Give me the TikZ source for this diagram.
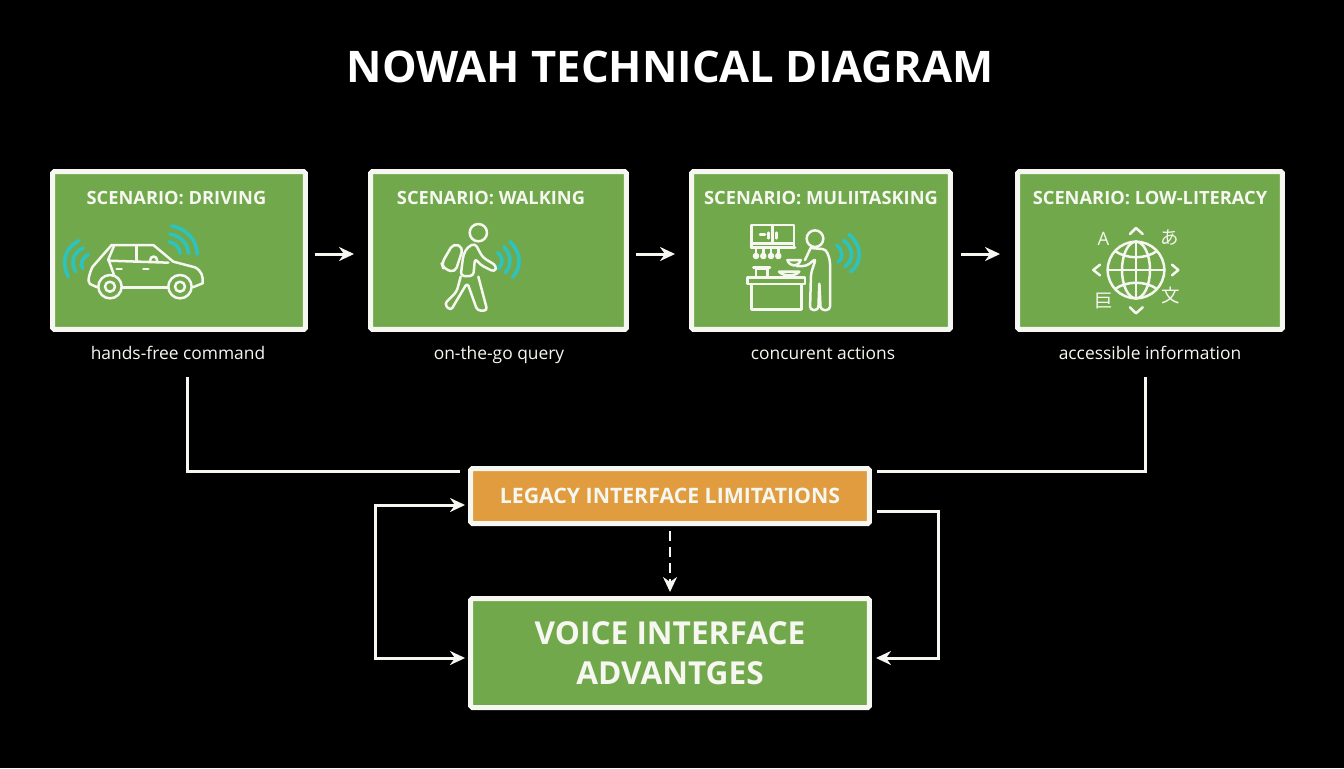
\documentclass[tikz,border=0pt]{standalone}
\usepackage{fontspec}
\setmainfont{Open Sans}
\newfontfamily\cjkfont{Noto Sans CJK JP}
\usepackage{tikz}
\usetikzlibrary{arrows.meta}

\definecolor{panelgreen}{HTML}{72A84C}
\definecolor{paneledge}{HTML}{F6F7F0}
\definecolor{alertorange}{HTML}{E09C3E}
\definecolor{wavecyan}{HTML}{2CC4C0}

\tikzset{
    panel/.style={draw=paneledge, line width=0.1cm, fill=panelgreen, rounded corners=1pt, inner sep=0pt},
    paneltitle/.style={anchor=base, text=paneledge, font=\fontsize{10.4}{14}\selectfont\bfseries},
    caption/.style={anchor=base, text=paneledge, font=\fontsize{9.9}{13}\selectfont},
    flow/.style={draw=paneledge, line width=0.06cm, -{Stealth[length=0.3cm,width=0.28cm]}},
    plainflow/.style={draw=paneledge, line width=0.06cm},
    icon/.style={draw=paneledge, line width=0.05cm, line cap=round, line join=round},
    wave/.style={draw=wavecyan, line width=0.07cm, line cap=round},
    glyph/.style={text=paneledge, font=\fontsize{10.5}{12}\selectfont},
    zoomed/.style={x=0.00667cm, y=-0.00667cm}
}

\begin{document}
\begin{tikzpicture}[x=0.02cm, y=-0.02cm]
    % Background
    \fill[black] (0,0) rectangle (1344,768);
    \node[text=white, font=\fontsize{24.8}{31}\selectfont\bfseries] (title) at (670,67) {NOWAH TECHNICAL DIAGRAM};

    % Scenario panels
    \node[panel, minimum width=5.06cm, minimum height=3.16cm] (driving) at (179,250.5) {};
    \node[panel, minimum width=5.12cm, minimum height=3.16cm] (walking) at (498.5,250.5) {};
    \node[panel, minimum width=5.18cm, minimum height=3.16cm] (multitask) at (821,250.5) {};
    \node[panel, minimum width=5.30cm, minimum height=3.16cm] (literacy) at (1150,250.5) {};

    \node[paneltitle] (drivingtitle) at (176.5,204) {SCENARIO: DRIVING};
    \node[paneltitle] (walkingtitle) at (491,204) {SCENARIO: WALKING};
    \node[paneltitle] (multitasktitle) at (821,204) {SCENARIO: MULIITASKING};
    \node[paneltitle] (literacytitle) at (1150,204) {SCENARIO: LOW-LITERACY};

    \node[caption] (drivingcap) at (178,359) {hands-free command};
    \node[caption] (walkingcap) at (499,359) {on-the-go query};
    \node[caption] (multitaskcap) at (823,359) {concurent actions};
    \node[caption] (literacycap) at (1150,359) {accessible information};

    % Lower boxes
    \node[panel, fill=alertorange, minimum width=7.98cm, minimum height=1.1cm,
        text=paneledge, font=\fontsize{12.1}{15}\selectfont\bfseries] (legacy) at (670,496) {LEGACY INTERFACE LIMITATIONS};
    \node[panel, minimum width=7.98cm, minimum height=2.18cm, align=center,
        text=paneledge, font=\fontsize{18}{22.5}\selectfont\bfseries] (voice) at (670,653) {VOICE INTERFACE\\ADVANTGES};

    % Arrows between panels
    \draw[flow, shorten <=0.14cm, shorten >=0.28cm] ([yshift=-0.07cm]driving.east) -- ([yshift=-0.07cm]walking.west);
    \draw[flow, shorten <=0.14cm, shorten >=0.28cm] ([yshift=-0.07cm]walking.east) -- ([yshift=-0.07cm]multitask.west);
    \draw[flow, shorten <=0.16cm, shorten >=0.30cm] ([yshift=-0.07cm]multitask.east) -- ([yshift=-0.07cm]literacy.west);

    % Lines into the legacy box
    \draw[plainflow, shorten <=0.24cm, shorten >=0.16cm] ([xshift=0.18cm]drivingcap.south) |- ([yshift=-0.1cm]legacy.north west);
    \draw[plainflow, shorten <=0.24cm, shorten >=0.1cm] ([xshift=-0.1cm]literacycap.south) |- ([yshift=-0.1cm]legacy.north east);

    % Loops round the lower boxes
    \coordinate (loopleft) at (375,580);
    \coordinate (loopright) at (938,580);
    \draw[flow, {Stealth[length=0.3cm,width=0.28cm]}-{Stealth[length=0.3cm,width=0.28cm]}, shorten <=0.06cm, shorten >=0.06cm]
        ([yshift=-0.18cm]legacy.west) -| (loopleft) |- ([yshift=-0.1cm]voice.west);
    \draw[flow, shorten <=0.1cm, shorten >=0.08cm] ([yshift=-0.3cm]legacy.east) -| (loopright) |- ([yshift=-0.1cm]voice.east);
    \draw[flow, line width=0.04cm, dash pattern=on 0.2cm off 0.12cm, shorten <=0.1cm, shorten >=0.08cm] (legacy.south) -- (voice.north);

    % Car icon
    \begin{scope}[shift={(40,160)}, zoomed]
        \draw[icon] (172,382) -- (150,372) .. controls (140,365) and (150,335) .. (158,320) -- (215,255) -- (340,255) -- (400,305) -- (465,322) .. controls (485,332) and (490,350) .. (488,370) -- (458,382);
        \draw[icon] (245,382) -- (385,382);
        \draw[icon] (222,258) -- (205,298) -- (222,345);
        \draw[icon] (205,302) -- (385,308);
        \draw[icon] (290,258) -- (290,305);
        \draw[icon] (330,303) .. controls (330,285) and (352,285) .. (352,303);
        \draw[icon] (230,327) -- (245,327) (310,327) -- (325,327);
        \draw[icon, fill=panelgreen] (210,380) circle (35);
        \draw[icon] (210,380) circle (15);
        \draw[icon, fill=panelgreen] (420,380) circle (35);
        \draw[icon] (420,380) circle (15);
        \draw[wave] (85,350) .. controls (60,300) and (80,260) .. (117,242);
        \draw[wave] (107,335) .. controls (90,305) and (100,278) .. (130,264);
        \draw[wave] (128,325) .. controls (120,310) and (125,295) .. (145,283);
        \draw[wave] (395,198) .. controls (440,205) and (470,240) .. (472,283);
        \draw[wave] (390,222) .. controls (420,228) and (445,250) .. (445,280);
        \draw[wave] (388,245) .. controls (405,250) and (420,262) .. (420,280);
    \end{scope}

    % Walker icon
    \begin{scope}[shift={(360,160)}, zoomed]
        \draw[icon] (355,218) circle (26);
        \draw[icon, rounded corners=2pt] (322,262) -- (345,250) -- (368,292) -- (410,318) -- (404,336) -- (362,315) -- (345,295) -- (340,348) -- (302,348) -- (310,285) -- cycle;
        \draw[icon, rounded corners=2pt] (302,350) -- (290,395) -- (253,432) -- (272,452) -- (322,368) -- (352,452) -- (382,452) -- (355,350);
        \draw[icon, rounded corners=3pt] (280,250) -- (310,262) -- (285,338) -- (250,325) -- (245,310) -- cycle;
        \draw[wave] (413,278) .. controls (430,290) and (430,310) .. (416,325);
        \draw[wave] (432,260) .. controls (455,285) and (455,315) .. (436,338);
        \draw[wave] (450,245) .. controls (485,280) and (485,320) .. (458,352);
    \end{scope}

    % Kitchen icon
    \begin{scope}[shift={(680,160)}, zoomed]
        \draw[icon] (215,195) rectangle (342,250);
        \draw[icon] (213,262) -- (345,262) (215,250) -- (215,262) (342,250) -- (342,262);
        \draw[icon] (277,195) -- (277,250) (265,218) -- (265,235) (290,218) -- (290,235) (240,224) -- (255,224);
        \foreach \hookx in {228,250,273,295} {
            \draw[icon] (\hookx,262) -- (\hookx,280);
            \draw[icon, fill=paneledge] (\hookx,288) circle (6);
        }
        \draw[icon] (203,352) rectangle (375,372);
        \draw[icon] (215,372) rectangle (365,448);
        \draw[icon] (228,350) -- (228,325) -- (262,325) -- (262,350) (220,322) -- (270,322);
        \draw[icon] (297,335) .. controls (310,350) and (345,350) .. (358,335) -- cycle;
        \draw[icon] (322,300) .. controls (330,322) and (355,322) .. (362,300) -- cycle;
        \draw[icon] (405,236) circle (25);
        \draw[icon, rounded corners=2pt] (392,264) -- (438,268) -- (450,300) -- (450,450) -- (422,450) -- (418,365) -- (415,450) -- (390,450) -- (393,340) -- (408,295) -- (380,318) -- (350,318);
        \draw[icon] (392,264) -- (375,300);
        \draw[wave] (470,256) .. controls (490,270) and (490,295) .. (475,306);
        \draw[wave] (490,240) .. controls (522,265) and (522,300) .. (495,320);
        \draw[wave] (507,223) .. controls (550,260) and (545,310) .. (512,335);
    \end{scope}

    % Globe icon
    \begin{scope}[shift={(1000,160)}, zoomed]
        \draw[icon] (408,330) circle (85);
        \draw[icon] (408,330) ellipse (42 and 85);
        \draw[icon] (408,245) -- (408,415) (323,330) -- (493,330);
        \draw[icon] (345,273) .. controls (380,298) and (436,298) .. (471,273);
        \draw[icon] (345,387) .. controls (380,362) and (436,362) .. (471,387);
        \draw[icon] (390,222) -- (408,204) -- (428,222);
        \draw[icon] (390,442) -- (408,460) -- (428,442);
        \draw[icon] (300,314) -- (280,330) -- (300,346);
        \draw[icon] (516,314) -- (535,330) -- (516,346);
        \node[glyph] (glypha) at (310,238) {A};
        \node[glyph, font=\fontsize{10.5}{12}\selectfont\cjkfont] (glyphhira) at (510,234) {あ};
        \node[glyph, font=\fontsize{10.5}{12}\selectfont\cjkfont] (glyphwen) at (513,407) {文};
        \node[glyph, font=\fontsize{10.5}{12}\selectfont\cjkfont] (glyphmu) at (312,422) {巨};
    \end{scope}
\end{tikzpicture}
\end{document}
